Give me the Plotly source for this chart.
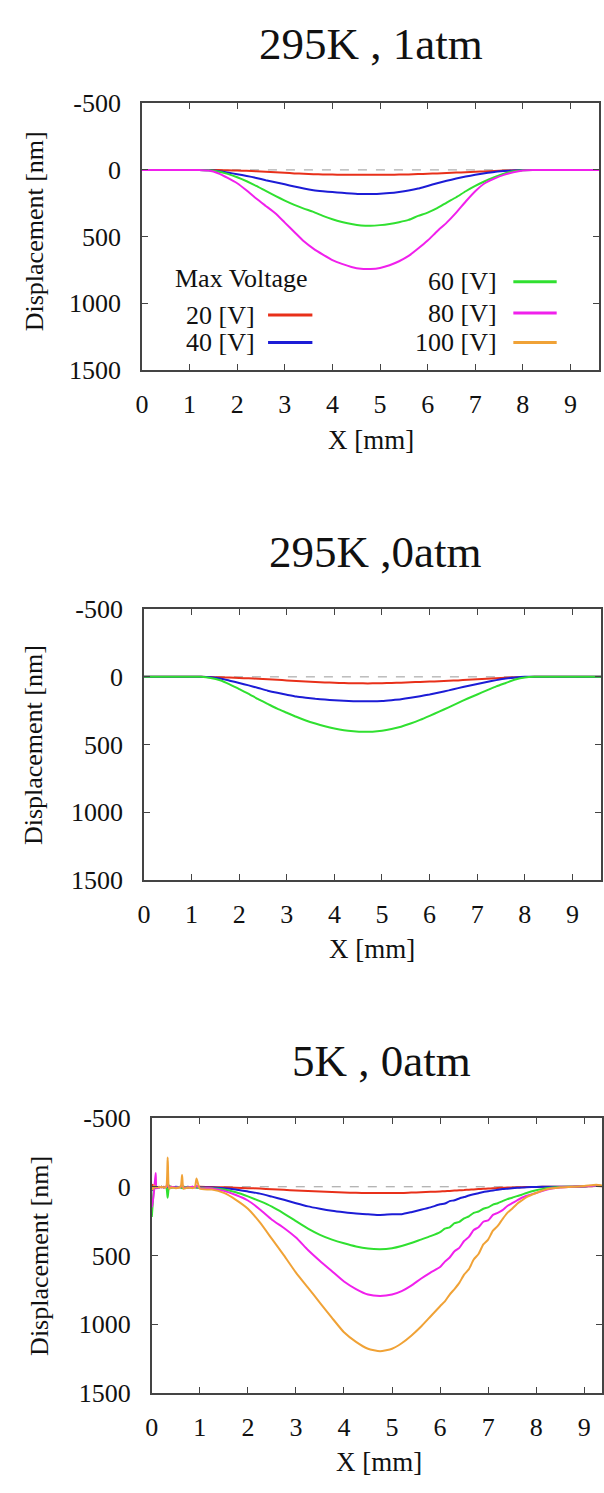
import plotly.graph_objects as go

W, H = 604, 1493

# ---------------- data ----------------
X_TOP = [0.0, 0.2, 0.4, 0.6, 0.8, 1.0, 1.2, 1.4, 1.6, 1.8, 2.0, 2.2, 2.4, 2.6, 2.8,
         3.0, 3.2, 3.4, 3.6, 3.8, 4.0, 4.2, 4.4, 4.6, 4.8, 5.0, 5.2, 5.4, 5.6, 5.8,
         6.0, 6.2, 6.4, 6.6, 6.8, 7.0, 7.2, 7.4, 7.6, 7.8, 8.0, 8.2, 8.4, 8.6, 8.8,
         9.0, 9.2, 9.4, 9.6]

# 295K, 1atm
P1_20V = [0, 0, 0, 0, 0, 0, 0, 0, 1, 3, 5, 7, 10, 14, 18, 22, 26, 29, 32, 34, 35, 36, 37, 37, 37,
          36, 36, 35, 34, 31, 29, 26, 23, 20, 17, 14, 11, 8, 5, 3, 1, 0, 0, 0, 0, 0, 0, 0, 0]
P1_40V = [0, 0, 0, 0, 0, 0, 0, 2, 8, 20, 32, 45, 60, 77, 92, 108, 125, 140, 152, 160, 166, 172, 177, 181, 181,
          178, 174, 166, 155, 140, 120, 100, 82, 65, 50, 37, 25, 15, 9, 4, 1, 0, 0, 0, 0, 0, 0, 0, 0]
P1_60V = [0, 0, 0, 0, 0, 0, 0, 3, 12, 30, 55, 85, 120, 158, 195, 230, 262, 290, 315, 345, 370, 390, 405, 416, 419,
          414, 405, 392, 375, 345, 320, 287, 245, 205, 160, 120, 85, 55, 28, 10, 2, 0, 0, 0, 0, 0, 0, 0, 0]
P1_80V = [0, 0, 0, 0, 0, 0, 0, 5, 25, 60, 100, 155, 215, 270, 325, 395, 465, 535, 590, 635, 676, 705, 728, 742, 743,
          735, 715, 685, 645, 590, 530, 460, 395, 320, 237, 160, 100, 65, 37, 18, 5, 0, 0, 0, 0, 0, 0, 0, 0]

# 295K, 0atm
P2_20V = [0, 0, 0, 0, 0, 0, 0, 1, 3, 5, 8, 11, 14, 18, 22, 26, 30, 34, 38, 41, 44, 46, 47, 48, 48,
          47, 45, 43, 40, 37, 35, 32, 29, 26, 22, 18, 14, 10, 6, 3, 1, 0, 0, 0, 0, 0, 0, 0, 0]
P2_40V = [0, 0, 0, 0, 0, 0, 0, 3, 12, 28, 45, 63, 82, 102, 118, 132, 145, 154, 162, 168, 173, 177, 180, 181, 181,
          178, 172, 165, 155, 143, 130, 115, 100, 83, 67, 52, 38, 24, 12, 4, 0, 0, 0, 0, 0, 0, 0, 0, 0]
P2_60V = [0, 0, 0, 0, 0, 0, 0, 8, 25, 55, 90, 125, 165, 200, 235, 265, 295, 322, 345, 365, 382, 395, 402, 406, 405,
          398, 385, 368, 345, 318, 288, 257, 225, 192, 160, 130, 100, 70, 45, 20, 5, 0, 0, 0, 0, 0, 0, 0, 0]

# 5K, 0atm
X_5K = [0, 0.02, 0.05, 0.08, 0.1, 0.15, 0.2, 0.25, 0.3, 0.33, 0.36, 0.4, 0.5, 0.6, 0.63, 0.66, 0.75, 0.85, 0.9, 0.93,
        1.0, 1.25, 1.5, 1.75, 2.0, 2.25, 2.5, 2.75, 3.0, 3.25, 3.5, 3.75, 4.0, 4.25, 4.5, 4.75,
        5.0, 5.2, 5.4, 5.6, 5.8,
        6.0, 6.1, 6.2, 6.3, 6.4, 6.5, 6.6, 6.7, 6.8, 6.9, 7.0, 7.1, 7.2, 7.3, 7.4, 7.5, 7.6, 7.7, 7.8,
        8.0, 8.25, 8.5, 8.75, 9.0, 9.25, 9.37]
P3_20V = [0, -15, 5, 0, 5, 0, 5, 0, 5, 0, 5, 0, 5, 0, 5, 0, 5, 0, 5, 0,
          0, 2, 4, 7, 10, 13, 18, 22, 27, 31, 35, 39, 42, 44, 45, 46,
          45, 45, 42, 40, 37,
          34, 32, 30, 28, 26, 24, 21, 19, 17, 15, 13, 11, 9, 7, 6, 5, 4, 3, 2,
          1, 0, 0, 0, -2, -5, -3]
P3_40V = [30, 10, 0, 5, 0, 5, 0, 5, 0, 5, 0, 5, 0, 5, 0, 5, 0, 5, 0, 5,
          5, 5, 10, 20, 35, 50, 72, 95, 120, 143, 160, 175, 186, 195, 200, 205,
          200, 200, 185, 168, 150,
          128, 122, 105, 98, 85, 75, 64, 55, 47, 38, 33, 27, 22, 17, 14, 11, 8, 6, 4,
          1, 0, 0, 0, -3, -8, -5]
P3_60V = [220, 120, 0, 10, 5, 5, 0, 5, 0, 80, -10, 5, 5, 0, 10, 0, 5, 5, 0, 5,
          8, 10, 20, 40, 70, 105, 145, 195, 250, 305, 350, 385, 412, 435, 450, 455,
          448, 432, 410, 385, 360,
          330, 305, 295, 265, 255, 230, 215, 190, 180, 160, 150, 130, 120, 105, 90, 80, 68, 58, 45,
          26, 8, 2, 0, -3, -8, -5]
P3_80V = [150, 110, 20, -100, 10, 5, 0, 5, 0, -20, 10, 0, 5, 0, -15, 5, 5, 0, 5, -10,
          10, 12, 30, 60, 100, 165, 240, 300, 370, 460, 540, 615, 690, 745, 785, 795,
          785, 760, 720, 670, 625,
          585, 545, 515, 470, 445, 395, 365, 315, 295, 255, 245, 205, 190, 170, 140, 120, 100, 80, 65,
          45, 18, 5, 0, -3, -10, -5]
P3_100V = [0, 20, -10, 5, 0, 5, 0, 5, 0, -214, 15, 5, 10, 0, -86, 15, 5, 10, 0, -60,
           15, 20, 45, 95, 160, 260, 380, 500, 625, 735, 845, 955, 1060, 1130, 1180, 1198,
           1180, 1140, 1085, 1020, 945,
           870, 835, 785, 745, 700, 640, 600, 530, 490, 420, 385, 320, 285, 235, 190, 160, 125, 100, 75,
           45, 15, 5, 0, -5, -15, -10]

TITLES = ["295K , 1atm", "295K ,0atm", "5K , 0atm"]
LEGEND_TITLE = "Max Voltage"
LABELS = {"20": "20 [V]", "40": "40 [V]", "60": "60 [V]", "80": "80 [V]", "100": "100 [V]"}
X_TICKS = [0, 1, 2, 3, 4, 5, 6, 7, 8, 9]
Y_TICKS = [-500, 0, 500, 1000, 1500]
Y_TICK_TEXT = ["-500", "0", "500", "1000", "1500"]
Y_TITLE = "Displacement [nm]"
X_TITLE = "X [mm]"

COLORS = {"20": "#e8301a", "40": "#1c1cd6", "60": "#30e030", "80": "#f020ec", "100": "#f0a236"}

panels = [
    (X_TOP, {"20": P1_20V, "40": P1_40V, "60": P1_60V, "80": P1_80V}),
    (X_TOP, {"20": P2_20V, "40": P2_40V, "60": P2_60V}),
    (X_5K, {"20": P3_20V, "40": P3_40V, "60": P3_60V, "80": P3_80V, "100": P3_100V}),
]

# ---------------- layout geometry (pixels) ----------------
FONT = "Liberation Serif"
# left, right, top, bottom (px), x max
geo = [
    (137, 601, 91, 363, 9.6),
    (139, 603, 607, 883, 9.6),
    (147, 604, 1126, 1406, 9.37),
]
title_pos = [(370, 31), (374, 549), (380, 1068)]
ytitle_pos = [(28, 222), (27, 746), (33, 1267)]
xtitle_pos = [(369, 434), (371, 954), (378, 1477)]


def px(x):
    return x / W


def py(y):
    return 1 - y / H


fig = go.Figure()
layout = dict(
    width=W, height=H, margin=dict(l=0, r=0, t=0, b=0),
    paper_bgcolor="white", plot_bgcolor="white", showlegend=False,
    font=dict(family=FONT, size=25, color="#111"),
)
annotations = []
shapes = []

for i, ((xs, series), (l, r, t, b, xmax)) in enumerate(zip(panels, geo)):
    n = "" if i == 0 else str(i + 1)
    for key, ys in series.items():
        fig.add_trace(go.Scatter(x=xs, y=ys, mode="lines", xaxis="x" + n, yaxis="y" + n,
                                 line=dict(color=COLORS[key], width=2, shape="spline", smoothing=0.5)))
    layout["xaxis" + n] = dict(
        domain=[px(l), px(r)], anchor="y" + n, range=[0, xmax],
        tickvals=X_TICKS, ticks="inside", ticklen=6, tickwidth=1.2, tickcolor="#444",
        showline=True, linecolor="#444", linewidth=1.5, mirror="ticks",
        showgrid=False, zeroline=False, ticklabelstandoff=10,
        tickfont=dict(family=FONT, size=26, color="#111"),
    )
    layout["yaxis" + n] = dict(
        domain=[py(b), py(t)], anchor="x" + n, range=[1500, -500],
        tickvals=Y_TICKS, ticktext=Y_TICK_TEXT, ticks="inside", ticklen=6, tickwidth=1.2, tickcolor="#444",
        showline=True, linecolor="#444", linewidth=1.5, mirror="ticks",
        showgrid=False, zeroline=False, ticklabelstandoff=14,
        tickfont=dict(family=FONT, size=26, color="#111"),
    )
    # dashed zero line
    shapes.append(dict(type="line", xref="x" + n, yref="y" + n, x0=0, x1=xmax, y0=0, y1=0,
                       line=dict(color="#999", width=1, dash="dash"), layer="below"))
    tx, ty = title_pos[i]
    annotations.append(dict(text=TITLES[i], x=px(tx), y=py(ty), xref="paper", yref="paper",
                            showarrow=False, xanchor="center", yanchor="middle",
                            font=dict(family=FONT, size=45, color="#111")))
    yx, yy = ytitle_pos[i]
    annotations.append(dict(text=Y_TITLE, x=px(yx), y=py(yy), xref="paper", yref="paper",
                            showarrow=False, xanchor="center", yanchor="middle", textangle=-90,
                            font=dict(family=FONT, size=26, color="#111")))
    xx, xy = xtitle_pos[i]
    annotations.append(dict(text=X_TITLE, x=px(xx), y=py(xy), xref="paper", yref="paper",
                            showarrow=False, xanchor="center", yanchor="middle",
                            font=dict(family=FONT, size=27, color="#111")))

# legend (manual, in panel 1)
annotations.append(dict(text=LEGEND_TITLE, x=px(238), y=py(270), xref="paper", yref="paper",
                        showarrow=False, xanchor="center", yanchor="middle",
                        font=dict(family=FONT, size=26, color="#111")))
leg = [("20", 254, 307, 265, 310), ("40", 254, 335, 265, 310),
       ("60", 499, 273, 514, 558), ("80", 499, 305, 514, 558), ("100", 499, 335, 514, 558)]
for key, tx, ty, lx0, lx1 in leg:
    annotations.append(dict(text=LABELS[key], x=px(tx), y=py(ty), xref="paper", yref="paper",
                            showarrow=False, xanchor="right", yanchor="middle",
                            font=dict(family=FONT, size=26, color="#111")))
    shapes.append(dict(type="line", xref="paper", yref="paper", x0=px(lx0), x1=px(lx1),
                       y0=py(ty), y1=py(ty), line=dict(color=COLORS[key], width=3)))

layout["annotations"] = annotations
layout["shapes"] = shapes
fig.update_layout(**layout)
fig.write_html("out.html")
